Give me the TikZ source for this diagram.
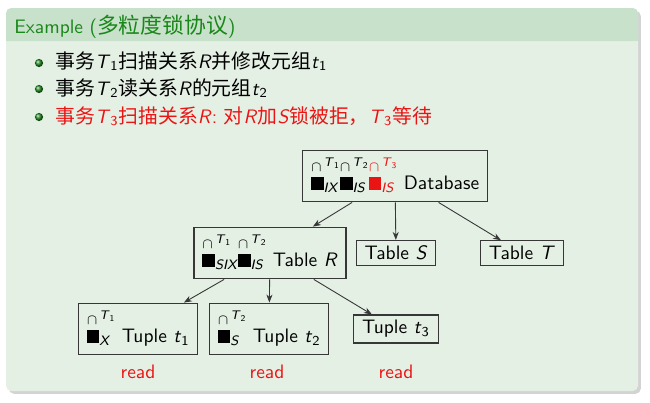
\documentclass[tikz,border=0pt]{standalone}
\usepackage{fontspec}
\newfontfamily\cjk[Scale=1.02]{Noto Sans CJK SC}
\newfontfamily\cjktitle[Scale=1.12]{Noto Sans CJK SC}
\renewcommand{\familydefault}{\sfdefault}
\usetikzlibrary{arrows.meta,positioning,shadows}
\definecolor{blockbody}{RGB}{229,240,229}
\definecolor{blocktitle}{RGB}{200,225,202}
\definecolor{titlegreen}{RGB}{25,135,25}
\definecolor{boxline}{RGB}{55,55,55}
\definecolor{ballgreen}{RGB}{35,140,35}
\definecolor{alertred}{RGB}{235,20,20}
\newcommand{\tv}[2]{\textit{#1}\textsubscript{#2}}
\newcommand{\lockon}[2]{%
  \begin{tabular}[b]{@{}l@{}}%
    \hspace{0.3pt}{\footnotesize$\cap$}\hspace{1.2pt}\raisebox{3pt}{\scriptsize\tv{T}{#2}}\\[-3pt]%
    \rule{7.2pt}{7.2pt}\textsubscript{\itshape #1}%
  \end{tabular}}
\tikzset{
  >={Stealth[length=4.5pt,width=3.4pt]},
  link/.style={->, line width=0.5pt, draw=boxline},
  gran/.style={draw=boxline, line width=0.6pt, inner xsep=4.6pt, inner ysep=3pt},
  readnote/.style={text=alertred},
  ballmark/.style={circle, inner sep=0pt, minimum size=4.6pt, shade, ball color=ballgreen},
  itemtext/.style={anchor=base west, inner sep=0pt},
  titletext/.style={anchor=base west, inner sep=0pt, text=titlegreen}
}
\begin{document}
\fontsize{10.9}{13}\selectfont
\begin{tikzpicture}[x=0.56pt, y=-0.56pt]
  \useasboundingbox (0,0) rectangle (650,402);

  % Block frame.
  \fill[blockbody, rounded corners=3pt, drop shadow={shadow xshift=1.6pt, shadow yshift=-1.6pt, opacity=0.35}]
    (6,8) rectangle (638,391);
  \fill[blocktitle] (6,41) [rounded corners=3pt] -- (6,8) -- (638,8) [sharp corners] -- (638,41) -- cycle;
  \node[titletext] (title) at (14,33) {Example ({\cjktitle 多粒度锁协议})};

  % Items.
  \node[ballmark] (b1) at (39,63) {};
  \node[ballmark] (b2) at (39,89) {};
  \node[ballmark] (b3) at (39,117) {};
  \node[itemtext] (i1) at (55,68) {{\cjk 事务}\tv{T}{1}{\cjk 扫描关系}\textit{R}{\cjk 并修改元组}\tv{t}{1}};
  \node[itemtext] (i2) at (55,95) {{\cjk 事务}\tv{T}{2}{\cjk 读关系}\textit{R}{\cjk 的元组}\tv{t}{2}};
  \node[itemtext, text=alertred] (i3) at (55,123) {{\cjk 事务}\tv{T}{3}{\cjk 扫描关系}\textit{R}: {\cjk 对}\textit{R}{\cjk 加}\textit{S}{\cjk 锁被拒，}\tv{T}{3}{\cjk 等待}};

  % Granularity tree.
  \node[gran] (db) at (395,176) {\lockon{IX}{1}\lockon{IS}{2}\textcolor{alertred}{\lockon{IS}{3}} Database};
  \node[gran] (tabR) at (270,253) {\lockon{SIX}{1}\lockon{IS}{2} Table \textit{R}};
  \node[gran] (tabS) at (396,253) {Table \textit{S}};
  \node[gran] (tabT) at (522,253) {Table \textit{T}};
  \node[gran] (tup1) at (138,329) {\lockon{X}{1} Tuple \tv{t}{1}};
  \node[gran] (tup2) at (269,329) {\lockon{S}{2} Tuple \tv{t}{2}};
  \node[gran] (tup3) at (396,329) {Tuple \tv{t}{3}};

  \node[readnote] (r1) at (138,372) {read};
  \node[readnote] (r2) at (267,372) {read};
  \node[readnote] (r3) at (396,372) {read};

  \draw[link] (db) -- (tabR);
  \draw[link] (db) -- (tabS);
  \draw[link] (db) -- (tabT);
  \draw[link] (tabR) -- (tup1);
  \draw[link] (tabR) -- (tup2);
  \draw[link] (tabR) -- (tup3);
\end{tikzpicture}
\end{document}
